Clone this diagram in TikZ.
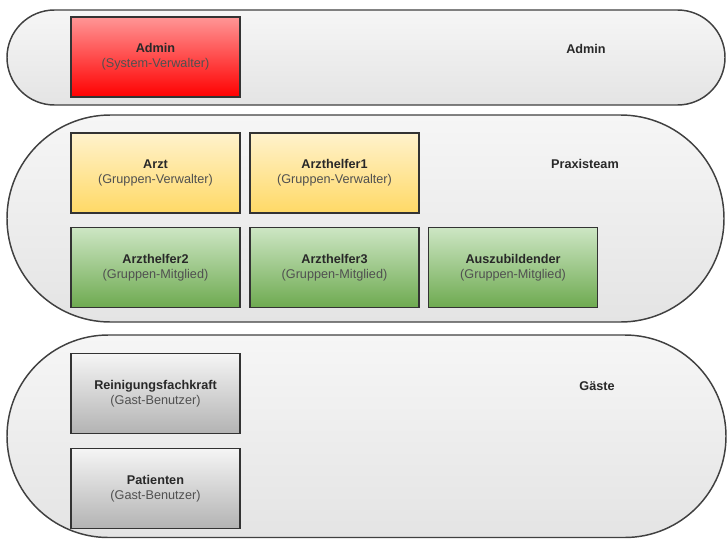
\documentclass[tikz,border=0pt]{standalone}
\usepackage{fontspec}
\setmainfont{Liberation Sans}
\usetikzlibrary{calc}

\definecolor{bandline}{RGB}{64,64,64}
\definecolor{bandtop}{RGB}{246,246,246}
\definecolor{bandbottom}{RGB}{228,228,228}
\definecolor{boxline}{RGB}{51,51,51}
\definecolor{redtop}{RGB}{255,150,150}
\definecolor{redbottom}{RGB}{255,0,0}
\definecolor{yellowtop}{RGB}{255,242,204}
\definecolor{yellowbottom}{RGB}{255,217,102}
\definecolor{greentop}{RGB}{205,230,196}
\definecolor{greenbottom}{RGB}{110,170,80}
\definecolor{greytop}{RGB}{245,245,245}
\definecolor{greybottom}{RGB}{179,179,179}
\definecolor{titletext}{RGB}{40,40,40}
\definecolor{subtext}{RGB}{80,80,80}

\tikzset{
  band/.style={draw=bandline, line width=1.1pt, top color=bandtop, bottom color=bandbottom},
  rolle/.style={draw=boxline, line width=0.9pt, minimum width=126.75pt, minimum height=60pt,
    inner sep=0pt, align=center, text=titletext, font=\fontsize{9.5}{11.5}\selectfont},
  gruppe/.style={text=titletext, font=\fontsize{9.5}{11.5}\selectfont\bfseries},
}
\newcommand{\rollentext}[2]{\textbf{#1}\\{\color{subtext}(#2)}}

\begin{document}
\begin{tikzpicture}[x=0.75pt,y=0.75pt,yscale=-1,xscale=1]
\useasboundingbox (0,0) rectangle (727,539);
%Shape: Rounded Rect (Admin)
\draw [band, rounded corners=35.6pt] (7,10) rectangle (725,105) ;
%Shape: Rounded Rect (Praxisteam)
\draw [band, rounded corners=77.6pt] (7,115) rectangle (724,322) ;
%Shape: Rounded Rect (Gaeste)
\draw [band, rounded corners=76pt] (7,335) rectangle (726,537.5) ;

%Group labels
\node [gruppe] (lblAdmin) at (586,49) {Admin};
\node [gruppe] (lblPraxis) at (585,164) {Praxisteam};
\node [gruppe] (lblGaeste) at (597,386) {Gäste};

%Roles
\node [rolle, top color=redtop, bottom color=redbottom] (admin) at (155.5,57) {\rollentext{Admin}{System-Verwalter}};
\node [rolle, top color=yellowtop, bottom color=yellowbottom] (arzt) at (155.5,173) {\rollentext{Arzt}{Gruppen-Verwalter}};
\node [rolle, top color=yellowtop, bottom color=yellowbottom] (helferEins) at (334.5,173) {\rollentext{Arzthelfer1}{Gruppen-Verwalter}};
\node [rolle, top color=greentop, bottom color=greenbottom] (helferZwei) at (155.5,267.5) {\rollentext{Arzthelfer2}{Gruppen-Mitglied}};
\node [rolle, top color=greentop, bottom color=greenbottom] (helferDrei) at (334.5,267.5) {\rollentext{Arzthelfer3}{Gruppen-Mitglied}};
\node [rolle, top color=greentop, bottom color=greenbottom] (azubi) at (513,267.5) {\rollentext{Auszubildender}{Gruppen-Mitglied}};
\node [rolle, top color=greytop, bottom color=greybottom] (reinigung) at (155.5,393.5) {\rollentext{Reinigungsfachkraft}{Gast-Benutzer}};
\node [rolle, top color=greytop, bottom color=greybottom] (patienten) at (155.5,488.5) {\rollentext{Patienten}{Gast-Benutzer}};
\end{tikzpicture}
\end{document}
